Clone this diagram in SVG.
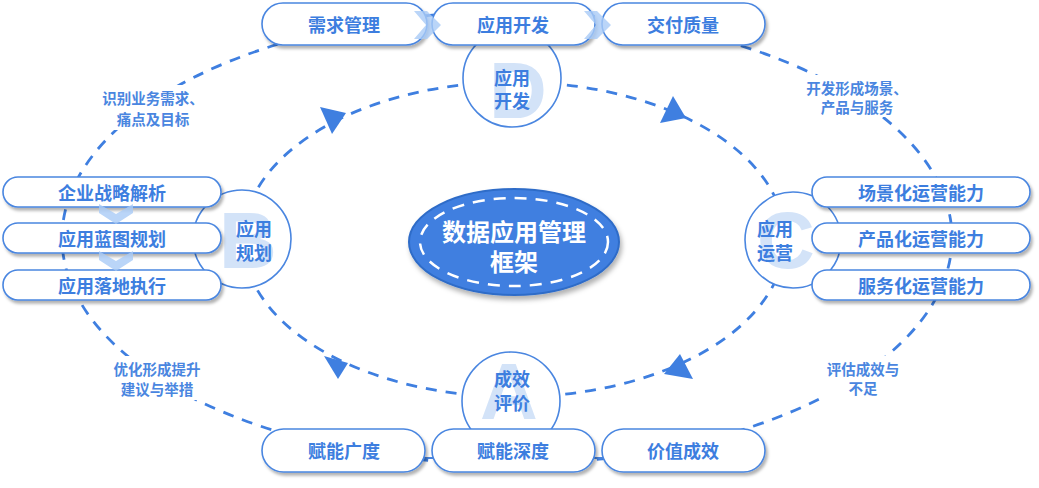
<svg xmlns="http://www.w3.org/2000/svg" width="1039" height="488" viewBox="0 0 1039 488">
<style>
.box{fill:#fff;stroke:#4a86e0;stroke-width:1.6;filter:url(#sh)}
.bt{font-family:"Noto Sans CJK SC","Liberation Sans",sans-serif;font-weight:bold;font-size:18px;fill:#3d7edf;text-anchor:middle;dominant-baseline:central}
.lbl{font-family:"Noto Sans CJK SC","Liberation Sans",sans-serif;font-weight:bold;font-size:14.5px;fill:#4a86e0;text-anchor:middle;dominant-baseline:central}
.circ{fill:#fff;stroke:#4a86e0;stroke-width:1.6}
.big{font-family:"Liberation Sans",sans-serif;font-weight:bold;font-size:80px;fill:#d3e3f8;text-anchor:middle}
.dash{fill:none;stroke:#3f7fe0;stroke-width:2.8;stroke-dasharray:11 9}
.arr{fill:#3f7fe0}
.chev{fill:#a9cbf6;fill-opacity:0.8}
</style>
<defs>
<filter id="sh" x="-10%" y="-30%" width="125%" height="170%">
<feDropShadow dx="2" dy="3" stdDeviation="1.8" flood-color="#000" flood-opacity="0.3"/>
</filter>
<filter id="sh2" x="-10%" y="-20%" width="125%" height="150%">
<feDropShadow dx="2" dy="4" stdDeviation="2.5" flood-color="#000" flood-opacity="0.3"/>
</filter>
</defs>
<rect width="1039" height="488" fill="#fff"/>
<g id="connectors">
<ellipse class="dash" cx="507" cy="238" rx="445" ry="226"/>
<ellipse class="dash" cx="514" cy="239.5" rx="271" ry="157.5"/>
<polygon class="arr" points="320,107 346,113 332,134"/>
<polygon class="arr" points="673,96 660,123 686,118"/>
<polygon class="arr" points="680,354 664,374 693,379"/>
<polygon class="arr" points="324,356 348,363 338,379"/>
<line x1="300" y1="458" x2="730" y2="458" stroke="#4a86e0" stroke-width="2"/>
</g>
<g id="labels">
<rect x="98" y="85" width="110" height="45" fill="#fff"/>
<text class="lbl" x="153" y="97">识别业务需求、</text>
<text class="lbl" x="153" y="118">痛点及目标</text>
<rect x="802" y="75" width="112" height="42" fill="#fff"/>
<text class="lbl" x="857" y="87">开发形成场景、</text>
<text class="lbl" x="857" y="106">产品与服务</text>
<rect x="104" y="356" width="108" height="44" fill="#fff"/>
<text class="lbl" x="157" y="368">优化形成提升</text>
<text class="lbl" x="157" y="388">建议与举措</text>
<rect x="820" y="356" width="88" height="42" fill="#fff"/>
<text class="lbl" x="863" y="368">评估成效与</text>
<text class="lbl" x="863" y="387">不足</text>
</g>
<g id="circle-D">
<circle class="circ" cx="512" cy="78" r="49"/>
<text class="big" x="518" y="118">D</text>
<text class="bt" x="512" y="77">应用</text>
<text class="bt" x="512" y="100">开发</text>
</g>
<g id="circle-B">
<circle class="circ" cx="242" cy="239" r="49"/>
<text class="big" x="248" y="268">B</text>
<text class="bt" x="254" y="228">应用</text>
<text class="bt" x="254" y="252">规划</text>
</g>
<g id="circle-C">
<circle class="circ" cx="793" cy="240" r="48"/>
<text class="big" x="786" y="268">C</text>
<text class="bt" x="775" y="228">应用</text>
<text class="bt" x="775" y="252">运营</text>
</g>
<g id="circle-A">
<circle class="circ" cx="511" cy="401" r="49"/>
<text class="big" x="509" y="419">A</text>
<text class="bt" x="512" y="378">成效</text>
<text class="bt" x="512" y="402">评价</text>
</g>
<g id="node-xqgl"><rect class="box" x="262" y="3" width="165" height="42" rx="21"/><text class="bt" x="344" y="24">需求管理</text></g>
<g id="node-yykf"><rect class="box" x="432" y="3" width="163" height="42" rx="21"/><text class="bt" x="513" y="24">应用开发</text></g>
<g id="node-jfzl"><rect class="box" x="602" y="3" width="163" height="42" rx="21"/><text class="bt" x="683" y="24">交付质量</text></g>
<g id="node-qyzl"><rect class="box" x="3" y="177" width="218" height="30" rx="15"/><text class="bt" x="112" y="192">企业战略解析</text></g>
<g id="node-yylt"><rect class="box" x="3" y="223" width="218" height="30" rx="15"/><text class="bt" x="112" y="238">应用蓝图规划</text></g>
<g id="node-yyld"><rect class="box" x="3" y="270" width="218" height="30" rx="15"/><text class="bt" x="112" y="285">应用落地执行</text></g>
<g id="node-cjh"><rect class="box" x="812" y="177" width="218" height="30" rx="15"/><text class="bt" x="921" y="192">场景化运营能力</text></g>
<g id="node-cph"><rect class="box" x="812" y="223" width="218" height="30" rx="15"/><text class="bt" x="921" y="238">产品化运营能力</text></g>
<g id="node-fwh"><rect class="box" x="812" y="270" width="218" height="30" rx="15"/><text class="bt" x="921" y="285">服务化运营能力</text></g>
<g id="node-fngd"><rect class="box" x="262" y="429" width="163" height="43" rx="21.5"/><text class="bt" x="344" y="450">赋能广度</text></g>
<g id="node-fnsd"><rect class="box" x="432" y="429" width="163" height="43" rx="21.5"/><text class="bt" x="513" y="450">赋能深度</text></g>
<g id="node-jzcx"><rect class="box" x="602" y="429" width="163" height="43" rx="21.5"/><text class="bt" x="683" y="450">价值成效</text></g>
<g id="chevrons">
<polygon class="chev" points="414,11 427,11 441,25 427,39 414,39 426,25"/>
<polygon class="chev" points="584,11 597,11 611,25 597,39 584,39 596,25"/>
<polygon class="chev" points="99,204 116,214 133,204 133,213 116,224 99,213"/>
<polygon class="chev" points="99,251 116,261 133,251 133,260 116,271 99,260"/>
</g>
<g id="center">
<ellipse cx="514" cy="242" rx="105" ry="53" fill="#3f7fe0" stroke="#2f6cc8" stroke-width="2" filter="url(#sh2)"/>
<ellipse cx="514" cy="242" rx="94" ry="44" fill="none" stroke="#fff" stroke-width="2.5" stroke-dasharray="12 9"/>
<text x="514" y="230" font-family="Noto Sans CJK SC, Liberation Sans, sans-serif" font-weight="bold" font-size="24" fill="#fff" text-anchor="middle" dominant-baseline="central">数据应用管理</text>
<text x="514" y="260" font-family="Noto Sans CJK SC, Liberation Sans, sans-serif" font-weight="bold" font-size="24" fill="#fff" text-anchor="middle" dominant-baseline="central">框架</text>
</g>
</svg>
